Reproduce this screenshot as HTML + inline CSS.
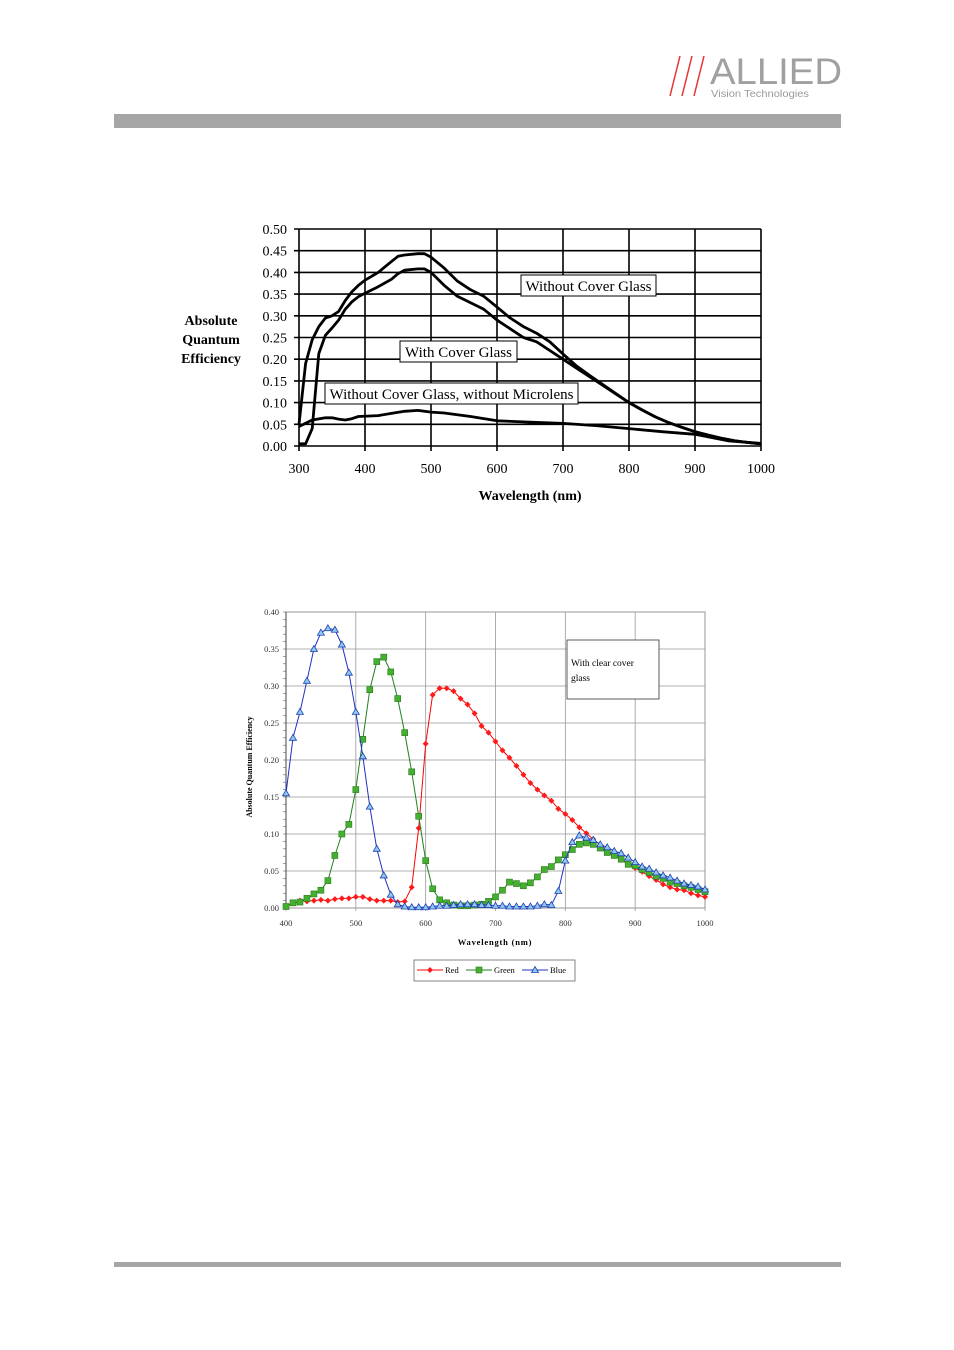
<!DOCTYPE html>
<html><head><meta charset="utf-8">
<style>
body{margin:0;background:#fff;}
#page{position:relative;width:954px;height:1350px;overflow:hidden;background:#fff;font-family:"Liberation Serif",serif;}
</style></head>
<body>
<div id="page">
<svg id="svg" width="954" height="1350" xmlns="http://www.w3.org/2000/svg">
  <g>
    <line x1="670" y1="96" x2="680" y2="56" stroke="#e53030" stroke-width="1.5"/>
    <line x1="682" y1="96" x2="692" y2="56" stroke="#e53030" stroke-width="1.5"/>
    <line x1="694" y1="96" x2="704" y2="56" stroke="#e53030" stroke-width="1.5"/>
    <text x="710" y="84" font-family="Liberation Sans, sans-serif" font-size="37" fill="#a0a0a0" textLength="132" lengthAdjust="spacingAndGlyphs">ALLIED</text>
    <text x="711" y="97" font-family="Liberation Sans, sans-serif" font-size="10" fill="#9a9a9a" textLength="98" lengthAdjust="spacingAndGlyphs">Vision Technologies</text>
  </g>
  <rect x="114" y="114" width="727" height="14" fill="#a6a6a6"/>
  <rect x="114" y="1262" width="727" height="5" fill="#a6a6a6"/>
  <g id="top"></g>
  <g id="bot"></g>
</svg>
</div>
<script>
// ---- Top chart data ----
const topX = [300,310,320,330,340,350,360,370,380,390,400,420,440,450,460,480,490,500,520,540,560,580,600,620,640,660,680,700,720,740,760,780,800,820,840,860,880,900,920,940,960,980,1000];
const topWithout = [0.05,0.19,0.245,0.275,0.295,0.30,0.31,0.335,0.355,0.37,0.382,0.40,0.425,0.437,0.44,0.443,0.443,0.435,0.41,0.38,0.36,0.345,0.32,0.295,0.275,0.26,0.24,0.212,0.185,0.163,0.142,0.121,0.10,0.083,0.067,0.054,0.043,0.033,0.025,0.018,0.012,0.008,0.005];
const topWith = [0.005,0.005,0.04,0.213,0.255,0.272,0.29,0.315,0.332,0.344,0.352,0.367,0.384,0.397,0.405,0.408,0.408,0.40,0.37,0.345,0.33,0.315,0.29,0.27,0.25,0.24,0.22,0.20,0.18,0.16,0.14,0.12,0.10,0.083,0.067,0.054,0.043,0.033,0.025,0.018,0.012,0.008,0.005];
const topMicroX = [300,320,340,350,360,370,380,390,420,440,460,480,500,520,560,600,650,700,750,800,850,900,950,1000];
const topMicro = [0.045,0.06,0.065,0.065,0.062,0.06,0.063,0.068,0.07,0.075,0.08,0.082,0.078,0.076,0.068,0.058,0.055,0.052,0.047,0.040,0.033,0.027,0.012,0.006];
const topYTicks = ["0.00","0.05","0.10","0.15","0.20","0.25","0.30","0.35","0.40","0.45","0.50"];
const topXTicks = [300,400,500,600,700,800,900,1000];

// ---- Bottom chart data ----
const botX = [];
for (let w = 400; w <= 1000; w += 10) botX.push(w);
const red = [0.003,0.006,0.010,0.009,0.010,0.011,0.010,0.012,0.013,0.013,0.015,0.015,0.012,0.010,0.010,0.010,0.008,0.009,0.028,0.108,0.222,0.288,0.297,0.297,0.293,0.283,0.275,0.263,0.246,0.237,0.225,0.213,0.203,0.192,0.180,0.169,0.160,0.152,0.145,0.134,0.127,0.119,0.109,0.101,0.093,0.085,0.078,0.072,0.065,0.059,0.054,0.049,0.043,0.038,0.032,0.028,0.025,0.024,0.020,0.017,0.015];
const green = [0.002,0.007,0.008,0.013,0.019,0.024,0.037,0.071,0.100,0.113,0.160,0.228,0.295,0.333,0.339,0.319,0.283,0.237,0.184,0.124,0.064,0.026,0.011,0.007,0.004,0.003,0.003,0.004,0.005,0.009,0.015,0.024,0.035,0.033,0.030,0.034,0.042,0.052,0.056,0.065,0.072,0.079,0.086,0.088,0.086,0.081,0.075,0.071,0.066,0.059,0.057,0.052,0.048,0.043,0.040,0.035,0.033,0.030,0.028,0.025,0.022];
const blue = [0.155,0.230,0.265,0.307,0.350,0.372,0.378,0.376,0.356,0.318,0.265,0.205,0.137,0.080,0.044,0.018,0.005,0.002,0.001,0.001,0.001,0.002,0.003,0.003,0.004,0.005,0.005,0.005,0.004,0.004,0.003,0.003,0.002,0.002,0.002,0.002,0.003,0.005,0.004,0.023,0.064,0.089,0.098,0.095,0.092,0.086,0.082,0.077,0.074,0.068,0.062,0.056,0.053,0.048,0.044,0.041,0.037,0.033,0.031,0.029,0.025];
const botYTicks = ["0.00","0.05","0.10","0.15","0.20","0.25","0.30","0.35","0.40"];
const botXTicks = [400,500,600,700,800,900,1000];

const NS = "http://www.w3.org/2000/svg";
function mk(parent, tag, attrs, text) {
  const e = document.createElementNS(NS, tag);
  for (const k in attrs) e.setAttribute(k, attrs[k]);
  if (text !== undefined) e.textContent = text;
  parent.appendChild(e);
  return e;
}

// ===== Top chart =====
(function () {
  const g = document.getElementById('top');
  const x0 = 299, x1 = 761, y0 = 446, y1 = 229;
  const sx = w => x0 + (w - 300) / 700 * (x1 - x0);
  const sy = v => y0 - v / 0.5 * (y0 - y1);
  topYTicks.forEach(t => {
    const y = sy(parseFloat(t));
    const l = mk(g, 'line', {x1: x0 - 5, y1: y, x2: x1, y2: y, stroke: '#000', 'stroke-width': 1.6});
    
    
    const tx = mk(g, 'text', {x: 287, y: y + 5, 'font-size': 14, 'text-anchor': 'end'}, t);
    
    
  });
  topXTicks.forEach(w => {
    const x = sx(w);
    const l = mk(g, 'line', {x1: x, y1: y1, x2: x, y2: y0 + 5, stroke: '#000', 'stroke-width': 1.6});
    
    
    const tx = mk(g, 'text', {x: x, y: 473, 'font-size': 14, 'text-anchor': 'middle'}, String(w));
    
    
  });
  const line = (xs, ys, name) => {
    const d = xs.map((w, i) => (i ? 'L' : 'M') + sx(w).toFixed(1) + ' ' + sy(ys[i]).toFixed(1)).join(' ');
    const p = mk(g, 'path', {d: d, fill: 'none', stroke: '#000', 'stroke-width': 2.8, 'stroke-linejoin': 'round'});
    
    
  };
  line(topX, topWithout, 'line-without-cover-glass');
  line(topX, topWith, 'line-with-cover-glass');
  line(topMicroX, topMicro, 'line-without-microlens');
  const box = (x, y, w, h, t, name) => {
    const r = mk(g, 'rect', {x: x, y: y, width: w, height: h, fill: '#fff', stroke: '#000', 'stroke-width': 1});
    
    
    const tx = mk(g, 'text', {x: x + w / 2, y: y + h - 5, 'font-size': 15, 'text-anchor': 'middle'}, t);
    
    
  };
  box(521, 275, 135, 21, 'Without Cover Glass', 'label-without-cover-glass');
  box(400, 341, 117, 21, 'With Cover Glass', 'label-with-cover-glass');
  box(325, 383, 253, 21, 'Without Cover Glass, without Microlens', 'label-without-microlens');
  ['Absolute', 'Quantum', 'Efficiency'].forEach((t, i) => {
    const tx = mk(g, 'text', {x: 211, y: 325 + i * 19, 'font-size': 14, 'font-weight': 'bold', 'text-anchor': 'middle'}, t);
    
    
  });
  const xt = mk(g, 'text', {x: 530, y: 500, 'font-size': 14, 'font-weight': 'bold', 'text-anchor': 'middle'}, 'Wavelength (nm)');
  
  
})();

// ===== Bottom chart =====
(function () {
  const g = document.getElementById('bot');
  const x0 = 286, x1 = 705, y0 = 908, y1 = 612;
  const sx = w => x0 + (w - 400) / 600 * (x1 - x0);
  const sy = v => y0 - v / 0.4 * (y0 - y1);
  const f = mk(g, 'rect', {x: x0, y: y1, width: x1 - x0, height: y0 - y1, fill: '#fff', stroke: '#888', 'stroke-width': 1});
  
  
  botYTicks.forEach(t => {
    const y = sy(parseFloat(t));
    const l = mk(g, 'line', {x1: x0, y1: y, x2: x1, y2: y, stroke: '#999', 'stroke-width': 0.8});
    
    
    const tx = mk(g, 'text', {x: 279, y: y + 3, 'font-size': 8.5, 'text-anchor': 'end', fill: '#333'}, t);
    
    
  });
  for (let k = 0; k <= 40; k++) {
    const y = sy(k * 0.01);
    const l = mk(g, 'line', {x1: x0 - 3, y1: y, x2: x0, y2: y, stroke: '#666', 'stroke-width': 0.6});
    
    
  }
  botXTicks.forEach(w => {
    const x = sx(w);
    const l = mk(g, 'line', {x1: x, y1: y1, x2: x, y2: y0 + 3, stroke: '#999', 'stroke-width': 0.8});
    
    
    const tx = mk(g, 'text', {x: x, y: 926, 'font-size': 8.5, 'text-anchor': 'middle', fill: '#333'}, String(w));
    
    
  });
  const ax = mk(g, 'line', {x1: x0, y1: y1, x2: x0, y2: y0, stroke: '#444', 'stroke-width': 1});
  
  
  const series = (ys, color, marker, name) => {
    const d = botX.map((w, i) => (i ? 'L' : 'M') + sx(w).toFixed(1) + ' ' + sy(ys[i]).toFixed(1)).join(' ');
    const p = mk(g, 'path', {d: d, fill: 'none', stroke: color, 'stroke-width': 1});
    
    
    botX.forEach((w, i) => {
      const x = sx(w), y = sy(ys[i]);
      let m;
      if (marker === 'd') m = mk(g, 'path', {d: `M${x} ${y - 3}L${x + 3} ${y}L${x} ${y + 3}L${x - 3} ${y}Z`, fill: '#ff1a1a'});
      else if (marker === 's') m = mk(g, 'rect', {x: x - 3, y: y - 3, width: 6, height: 6, fill: '#44b030', stroke: '#2a7a1a', 'stroke-width': 0.6});
      else m = mk(g, 'path', {d: `M${x} ${y - 3.5}L${x + 3.5} ${y + 2.5}L${x - 3.5} ${y + 2.5}Z`, fill: '#8cc8f0', stroke: '#2040b0', 'stroke-width': 0.8});
      
      
    });
  };
  series(red, '#ff0000', 'd', 'red');
  series(green, '#208020', 's', 'green');
  series(blue, '#2030c0', 't', 'blue');
  const nb = mk(g, 'rect', {x: 567, y: 640, width: 92, height: 59, fill: '#fff', stroke: '#333', 'stroke-width': 0.8});
  
  
  const n1 = mk(g, 'text', {x: 571, y: 666, 'font-size': 9.5}, 'With clear cover');
  
  
  const n2 = mk(g, 'text', {x: 571, y: 681, 'font-size': 9.5}, 'glass');
  
  
  const yt = mk(g, 'text', {x: 252, y: 767, 'font-size': 8, 'font-weight': 'bold', 'text-anchor': 'middle', transform: 'rotate(-90 252 767)'}, 'Absolute Quantum Efficiency');
  
  
  const xt = mk(g, 'text', {x: 495, y: 945, 'font-size': 8.5, 'font-weight': 'bold', 'text-anchor': 'middle', 'letter-spacing': '0.8'}, 'Wavelength (nm)');
  
  
  const lb = mk(g, 'rect', {x: 414, y: 960, width: 161, height: 21, fill: '#fff', stroke: '#666', 'stroke-width': 0.8});
  
  
  const items = [['Red', '#ff0000', 'd', 417], ['Green', '#208020', 's', 466], ['Blue', '#2030c0', 't', 522]];
  items.forEach(([t, c, m, x]) => {
    const ly = 970;
    const l = mk(g, 'line', {x1: x, y1: ly, x2: x + 26, y2: ly, stroke: c, 'stroke-width': 1});
    
    
    const cx = x + 13;
    let mm;
    if (m === 'd') mm = mk(g, 'path', {d: `M${cx} ${ly - 3}L${cx + 3} ${ly}L${cx} ${ly + 3}L${cx - 3} ${ly}Z`, fill: '#ff1a1a'});
    else if (m === 's') mm = mk(g, 'rect', {x: cx - 3, y: ly - 3, width: 6, height: 6, fill: '#44b030', stroke: '#2a7a1a', 'stroke-width': 0.6});
    else mm = mk(g, 'path', {d: `M${cx} ${ly - 3.5}L${cx + 3.5} ${ly + 2.5}L${cx - 3.5} ${ly + 2.5}Z`, fill: '#8cc8f0', stroke: '#2040b0', 'stroke-width': 0.8});
    
    
    const tx = mk(g, 'text', {x: x + 28, y: ly + 3, 'font-size': 8.5}, t);
    
    
  });
})();
</script>
</body></html>
